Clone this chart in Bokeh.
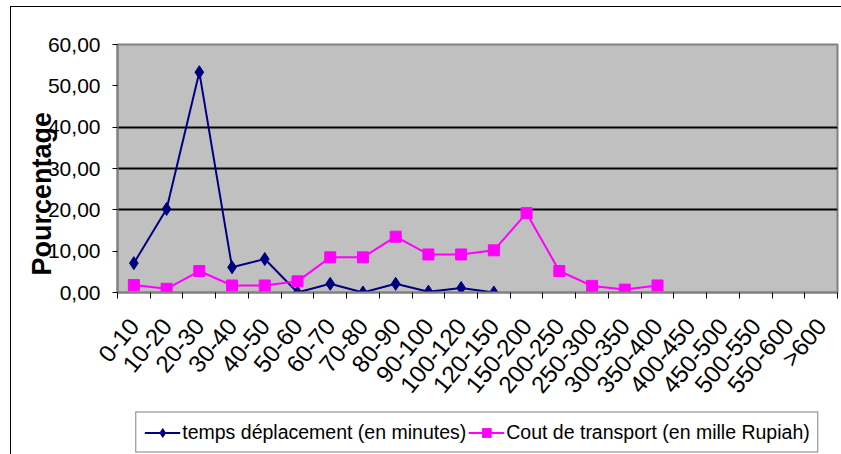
from bokeh.plotting import figure
from bokeh.layouts import column
from bokeh.models import (Range1d, FixedTicker, Legend, LegendItem, Title,
                          ColumnDataSource)
from bokeh.embed import file_html
from bokeh.resources import INLINE

# ---- data ----
categories = ["0-10", "10-20", "20-30", "30-40", "40-50", "50-60", "60-70",
              "70-80", "80-90", "90-100", "100-120", "120-150", "150-200",
              "200-250", "250-300", "300-350", "350-400", "400-450",
              "450-500", "500-550", "550-600", ">600"]
temps_deplacement = [7.1, 20.2, 53.3, 6.1, 8.1, 0.0, 2.1, 0.0, 2.1, 0.2, 1.1, 0.0]
cout_transport = [1.8, 0.9, 5.2, 1.7, 1.7, 2.7, 8.5, 8.5, 13.5, 9.2, 9.2, 10.2,
                  19.2, 5.2, 1.6, 0.7, 1.7]
y_ticks = [0, 10, 20, 30, 40, 50, 60]
y_tick_labels = ["0,00", "10,00", "20,00", "30,00", "40,00", "50,00", "60,00"]
grid_values = [20, 30, 40]
series_names = ["temps déplacement (en minutes)",
                "Cout de transport (en mille Rupiah)"]
y_title = "Pourcentage"

FONT = "Liberation Sans"
NAVY = "#000080"
MAGENTA = "#FF00FF"
n = len(categories)

p = figure(width=830, height=403, output_backend="svg", toolbar_location=None,
           x_range=Range1d(-0.5, n - 0.5), y_range=Range1d(0, 60),
           min_border_left=106, min_border_top=37, min_border_right=4,
           min_border_bottom=118,
           background_fill_color="#C0C0C0", border_fill_color="white",
           outline_line_color="#808080", outline_line_width=2)

# x axis: labels at category centres, tick marks between categories
xa = p.xaxis[0]
xa.ticker = FixedTicker(ticks=list(range(n)),
                        minor_ticks=[i - 0.5 for i in range(n + 1)])
xa.major_label_overrides = {i: c for i, c in enumerate(categories)}
xa.major_label_orientation = 0.88
xa.major_label_standoff = 23
xa.major_label_text_font = FONT
xa.major_label_text_font_size = "24px"
xa.major_label_text_color = "black"
xa.major_tick_out = 0
xa.major_tick_in = 0
xa.minor_tick_out = 6
xa.minor_tick_in = 0
xa.minor_tick_line_color = "black"
xa.axis_line_color = "#808080"
xa.axis_line_width = 2

# y axis
ya = p.yaxis[0]
ya.ticker = FixedTicker(ticks=y_ticks)
ya.major_label_overrides = {t: l for t, l in zip(y_ticks, y_tick_labels)}
ya.major_label_text_font = FONT
ya.major_label_text_font_size = "21px"
ya.major_label_text_color = "black"
ya.major_label_standoff = 12
ya.major_tick_out = 5
ya.major_tick_in = 0
ya.major_tick_line_color = "black"
ya.minor_tick_line_color = None
ya.axis_line_color = "#808080"
ya.axis_line_width = 2

p.xgrid.grid_line_color = None
p.ygrid.ticker = FixedTicker(ticks=grid_values)
p.ygrid.grid_line_color = "black"
p.ygrid.grid_line_width = 2

# y axis title
p.add_layout(Title(text=y_title, align="left", offset=17,
                   vertical_align="bottom", standoff=-24,
                   text_font=FONT, text_font_size="27px",
                   text_font_style="bold", text_color="black"), "left")

# series
src_t = ColumnDataSource(dict(x=list(range(len(temps_deplacement))), y=temps_deplacement))
src_c = ColumnDataSource(dict(x=list(range(len(cout_transport))), y=cout_transport))

p.line("x", "y", source=src_t, line_color=NAVY, line_width=2)
p.scatter("x", "y", source=src_t, marker="diamond", size=13,
          fill_color=NAVY, line_color=NAVY)
p.line("x", "y", source=src_c, line_color=MAGENTA, line_width=2)
p.scatter("x", "y", source=src_c, marker="square", size=11,
          fill_color=MAGENTA, line_color=MAGENTA)

# legend strip below the chart: same series drawn off-range, only the legend shows
lg = figure(width=830, height=44, output_backend="svg", toolbar_location=None,
            x_range=Range1d(-200, -199), y_range=Range1d(-200, -199),
            x_axis_type=None, y_axis_type=None,
            min_border_left=64, min_border_right=0, min_border_top=0,
            min_border_bottom=0, outline_line_color=None,
            background_fill_color="white", border_fill_color="white")
lg.xgrid.grid_line_color = None
lg.ygrid.grid_line_color = None
r1 = lg.line("x", "y", source=src_t, line_color=NAVY, line_width=2)
r2 = lg.scatter("x", "y", source=src_t, marker="diamond", size=12,
                fill_color=NAVY, line_color=NAVY)
r3 = lg.line("x", "y", source=src_c, line_color=MAGENTA, line_width=2)
r4 = lg.scatter("x", "y", source=src_c, marker="square", size=10,
                fill_color=MAGENTA, line_color=MAGENTA)

legend = Legend(items=[LegendItem(label=series_names[0], renderers=[r1, r2]),
                       LegendItem(label=series_names[1], renderers=[r3, r4])],
                orientation="horizontal", location="center",
                label_text_font=FONT, label_text_font_size="19.5px",
                label_text_color="black",
                border_line_color="black", border_line_width=1,
                background_fill_color="white", background_fill_alpha=1,
                glyph_width=36, glyph_height=22, label_standoff=2,
                spacing=2, padding=8, margin=0)
lg.add_layout(legend)

layout = column(p, lg, spacing=0,
                styles={"border-top": "1px solid black",
                        "border-left": "1px solid black",
                        "margin-left": "10px", "margin-top": "6px"})

open("out.html", "w").write(file_html(layout, INLINE))
